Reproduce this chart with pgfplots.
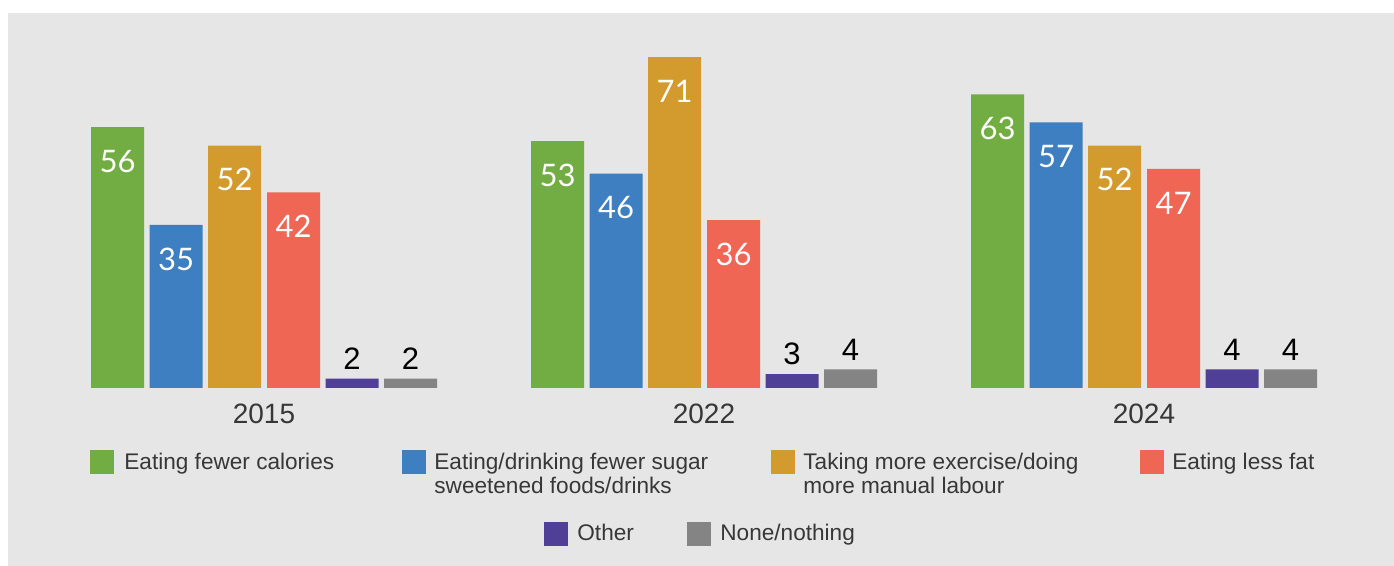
\documentclass[border=0pt]{standalone}
\usepackage{pgfplots}
\pgfplotsset{compat=1.18}
\usepackage{fontspec}
\setmainfont{Liberation Sans}
\newfontfamily\lato{Lato}
\definecolor{bg}{RGB}{230,230,230}
\definecolor{cgreen}{RGB}{114,173,67}
\definecolor{cblue}{RGB}{61,127,193}
\definecolor{corange}{RGB}{211,155,46}
\definecolor{cred}{RGB}{239,102,85}
\definecolor{cpurple}{RGB}{80,63,150}
\definecolor{cgray}{RGB}{132,132,132}
\definecolor{txt}{RGB}{55,55,55}
\begin{document}
\begin{tikzpicture}
\useasboundingbox (0,0) rectangle (697pt,283pt);
\fill[bg] (4pt,0) rectangle (697pt,276.5pt);
\begin{axis}[
  at={(0pt,89pt)}, anchor=south west,
  scale only axis, width=697pt, height=187pt,
  xmin=0, xmax=1394, ymin=0, ymax=80.26,
  clip=false,
  axis line style={draw=none},
  ytick=\empty,
  xtick={264,704,1144},
  xticklabels={2015,2022,2024},
  major tick length=0pt,
  /pgf/number format/assume math mode=true,
  xticklabel style={anchor=base, yshift=-18pt, font=\fontsize{14}{16}\selectfont, text=txt},
  inlabel/.style={nodes near coords, every node near coord/.append style={anchor=center, xshift=#1, yshift=-17pt, text=white, font=\lato\fontsize{15.5}{18}\selectfont}},
  outlabel/.style={nodes near coords, every node near coord/.append style={anchor=center, xshift=#1, yshift=10pt, text=black, font=\fontsize{15.5}{18}\selectfont}},
]
\addplot[ybar, bar width=53, bar shift=-146.5, fill=cgreen, draw=none, inlabel=-73.25pt] coordinates {(264,56) (704,53) (1144,63)};
\addplot[ybar, bar width=53, bar shift=-88, fill=cblue, draw=none, inlabel=-44pt] coordinates {(264,35) (704,46) (1144,57)};
\addplot[ybar, bar width=53, bar shift=-29.5, fill=corange, draw=none, inlabel=-14.75pt] coordinates {(264,52) (704,71) (1144,52)};
\addplot[ybar, bar width=53, bar shift=29.5, fill=cred, draw=none, inlabel=14.75pt] coordinates {(264,42) (704,36) (1144,47)};
\addplot[ybar, bar width=53, bar shift=88, fill=cpurple, draw=none, outlabel=44pt] coordinates {(264,2) (704,3) (1144,4)};
\addplot[ybar, bar width=53, bar shift=146.5, fill=cgray, draw=none, outlabel=73.25pt] coordinates {(264,2) (704,4) (1144,4)};
\end{axis}
% legend
\begin{scope}[every node/.style={inner sep=0pt, anchor=base west, text=txt, font=\fontsize{11.3}{13}\selectfont}]
\fill[cgreen] (45pt,46pt) rectangle (57pt,58pt);
\node at (62pt,48.35pt) {Eating fewer calories};
\fill[cblue] (201pt,46pt) rectangle (213pt,58pt);
\node at (217pt,48.35pt) {Eating/drinking fewer sugar};
\node at (217pt,36pt) {sweetened foods/drinks};
\fill[corange] (385.5pt,46pt) rectangle (397.5pt,58pt);
\node at (401.5pt,48.35pt) {Taking more exercise/doing};
\node at (401.5pt,36pt) {more manual labour};
\fill[cred] (570pt,46pt) rectangle (582pt,58pt);
\node at (586pt,48.35pt) {Eating less fat};
\fill[cpurple] (272pt,10pt) rectangle (284pt,22pt);
\node at (288.5pt,12.5pt) {Other};
\fill[cgray] (343.5pt,10pt) rectangle (355.5pt,22pt);
\node at (360pt,12.5pt) {None/nothing};
\end{scope}
\end{tikzpicture}
\end{document}
